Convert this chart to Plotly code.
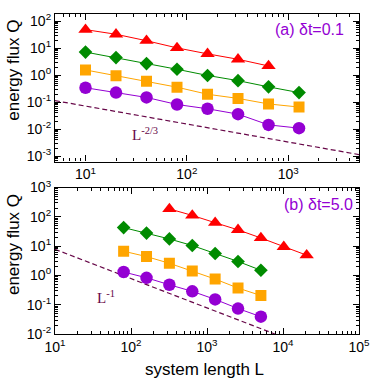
import plotly.graph_objects as go

# panel (a): dt = 0.1
L_a = [10, 20, 40, 80, 160, 320, 640, 1280]
Q_a_red = [49, 33, 19, 10.3, 6.2, 3.9, 2.2]
Q_a_green = [7.2, 4.5, 2.7, 1.66, 0.98, 0.63, 0.37, 0.227]
Q_a_orange = [1.57, 0.95, 0.6, 0.36, 0.197, 0.138, 0.086, 0.066]
Q_a_purple = [0.343, 0.227, 0.15, 0.082, 0.057, 0.036, 0.0144, 0.0109]
guide_a_L = [5, 5000]
guide_a_Q = [0.114, 0.00114]

# panel (b): dt = 5.0
L_b_red = [320, 640, 1280, 2560, 5120, 10240, 20480]
Q_b_red = [187, 112, 63, 36, 19, 9.5, 4.9]
L_b = [80, 160, 320, 640, 1280, 2560, 5120]
Q_b_green = [43, 28, 17.6, 10.5, 5.6, 3.0, 1.5]
Q_b_orange = [6.7, 4.4, 2.6, 1.42, 0.75, 0.37, 0.206]
Q_b_purple = [1.31, 0.83, 0.48, 0.286, 0.152, 0.074, 0.039]
guide_b_L = [10, 10000]
guide_b_Q = [7.8, 0.0078]

RED, GREEN, ORANGE, VIOLET, MAROON = '#ff0000', '#008b00', '#ffa500', '#9400d3', '#670748'
FONT = 'Liberation Sans, Arial, sans-serif'


def series(x, y, color, symbol, size, xa, ya):
    return go.Scatter(x=x, y=y, mode='lines+markers', xaxis=xa, yaxis=ya, showlegend=False,
                      line=dict(color=color, width=1),
                      marker=dict(color=color, symbol=symbol, size=size, line=dict(width=0)))


def guide(x, y, xa, ya):
    return go.Scatter(x=x, y=y, mode='lines', xaxis=xa, yaxis=ya, showlegend=False,
                      line=dict(color=MAROON, width=1.2, dash='5px,3px'))


def decades(lo, hi):
    vals = [10.0 ** k for k in range(lo, hi + 1)]
    text = [f'10<sup>{k}</sup>' for k in range(lo, hi + 1)]
    minor = [m * 10.0 ** k for k in range(lo - 1, hi + 1) for m in range(2, 10)]
    return vals, text, minor


def log_axis(rng, lo, hi, **kw):
    vals, text, minor = decades(lo, hi)
    return dict(type='log', range=rng, tickmode='array', tickvals=vals, ticktext=text,
                ticks='inside', ticklen=6, tickcolor='black', showline=True, linecolor='black',
                linewidth=1.2, mirror='ticks', showgrid=False, zeroline=False,
                tickfont=dict(family=FONT, size=14, color='black'),
                minor=dict(tickmode='array', tickvals=minor, ticks='inside', ticklen=3,
                           tickcolor='black', showgrid=False), **kw)


# marker sizes tuned so the drawn glyphs are ~12-13 px wide
MARKERS = [('triangle-up', 12.5), ('diamond', 10.5), ('square', 11), ('circle', 12.5)]

fig = go.Figure()
fig.add_trace(guide(guide_a_L, guide_a_Q, 'x', 'y'))
for (sym, sz), xs, ys, c in zip(MARKERS, [L_a[:7], L_a, L_a, L_a],
                                [Q_a_red, Q_a_green, Q_a_orange, Q_a_purple],
                                [RED, GREEN, ORANGE, VIOLET]):
    fig.add_trace(series(xs, ys, c, sym, sz, 'x', 'y'))

fig.add_trace(guide(guide_b_L, guide_b_Q, 'x2', 'y2'))
for (sym, sz), xs, ys, c in zip(MARKERS, [L_b_red, L_b, L_b, L_b],
                                [Q_b_red, Q_b_green, Q_b_orange, Q_b_purple],
                                [RED, GREEN, ORANGE, VIOLET]):
    fig.add_trace(series(xs, ys, c, sym, sz, 'x2', 'y2'))

fig.update_layout(
    width=374, height=380, margin=dict(l=55, r=13, t=4, b=46),
    plot_bgcolor='white', paper_bgcolor='white',
    xaxis=log_axis([0.699, 3.699], 1, 3, domain=[0, 1], anchor='y'),
    yaxis=log_axis([-3.2, 2.27], -3, 2, domain=[0.539, 1], anchor='x'),
    xaxis2=log_axis([1, 5], 1, 5, domain=[0, 1], anchor='y2'),
    yaxis2=log_axis([-2, 3], -2, 3, domain=[0, 0.4576], anchor='x2'),
)

label = dict(family=FONT, size=17, color='black')
for yc in [0.824, 0.279]:
    fig.add_annotation(text='energy flux Q', textangle=-90, xref='paper', yref='paper',
                       x=-0.137, y=yc, xanchor='center', yanchor='middle',
                       showarrow=False, font=label)
fig.add_annotation(text='system length L', xref='paper', yref='paper',
                   x=0.493, y=-0.112, xanchor='center', yanchor='middle',
                   showarrow=False, font=label)

tag = dict(family=FONT, size=16, color=VIOLET)
fig.add_annotation(text='(a) δt=0.1', xref='paper', yref='paper', x=0.957, y=0.9515,
                   xanchor='right', yanchor='middle', showarrow=False, font=tag)
fig.add_annotation(text='(b) δt=5.0', xref='paper', yref='paper', x=0.987, y=0.406,
                   xanchor='right', yanchor='middle', showarrow=False, font=tag)

serif = dict(family='Liberation Serif, Times New Roman, serif', size=15, color=MAROON)
fig.add_annotation(text='L<sup>-2/3</sup>', xref='x', yref='y', x=1.444, y=-2.19,
                   xanchor='left', yanchor='middle', showarrow=False, font=serif)
fig.add_annotation(text='L<sup>-1</sup>', xref='x2', yref='y2', x=1.523, y=-0.742,
                   xanchor='left', yanchor='middle', showarrow=False, font=serif)

fig.write_html('out.html', config={'displayModeBar': False},
               post_script="document.body.style.margin = '0';")
